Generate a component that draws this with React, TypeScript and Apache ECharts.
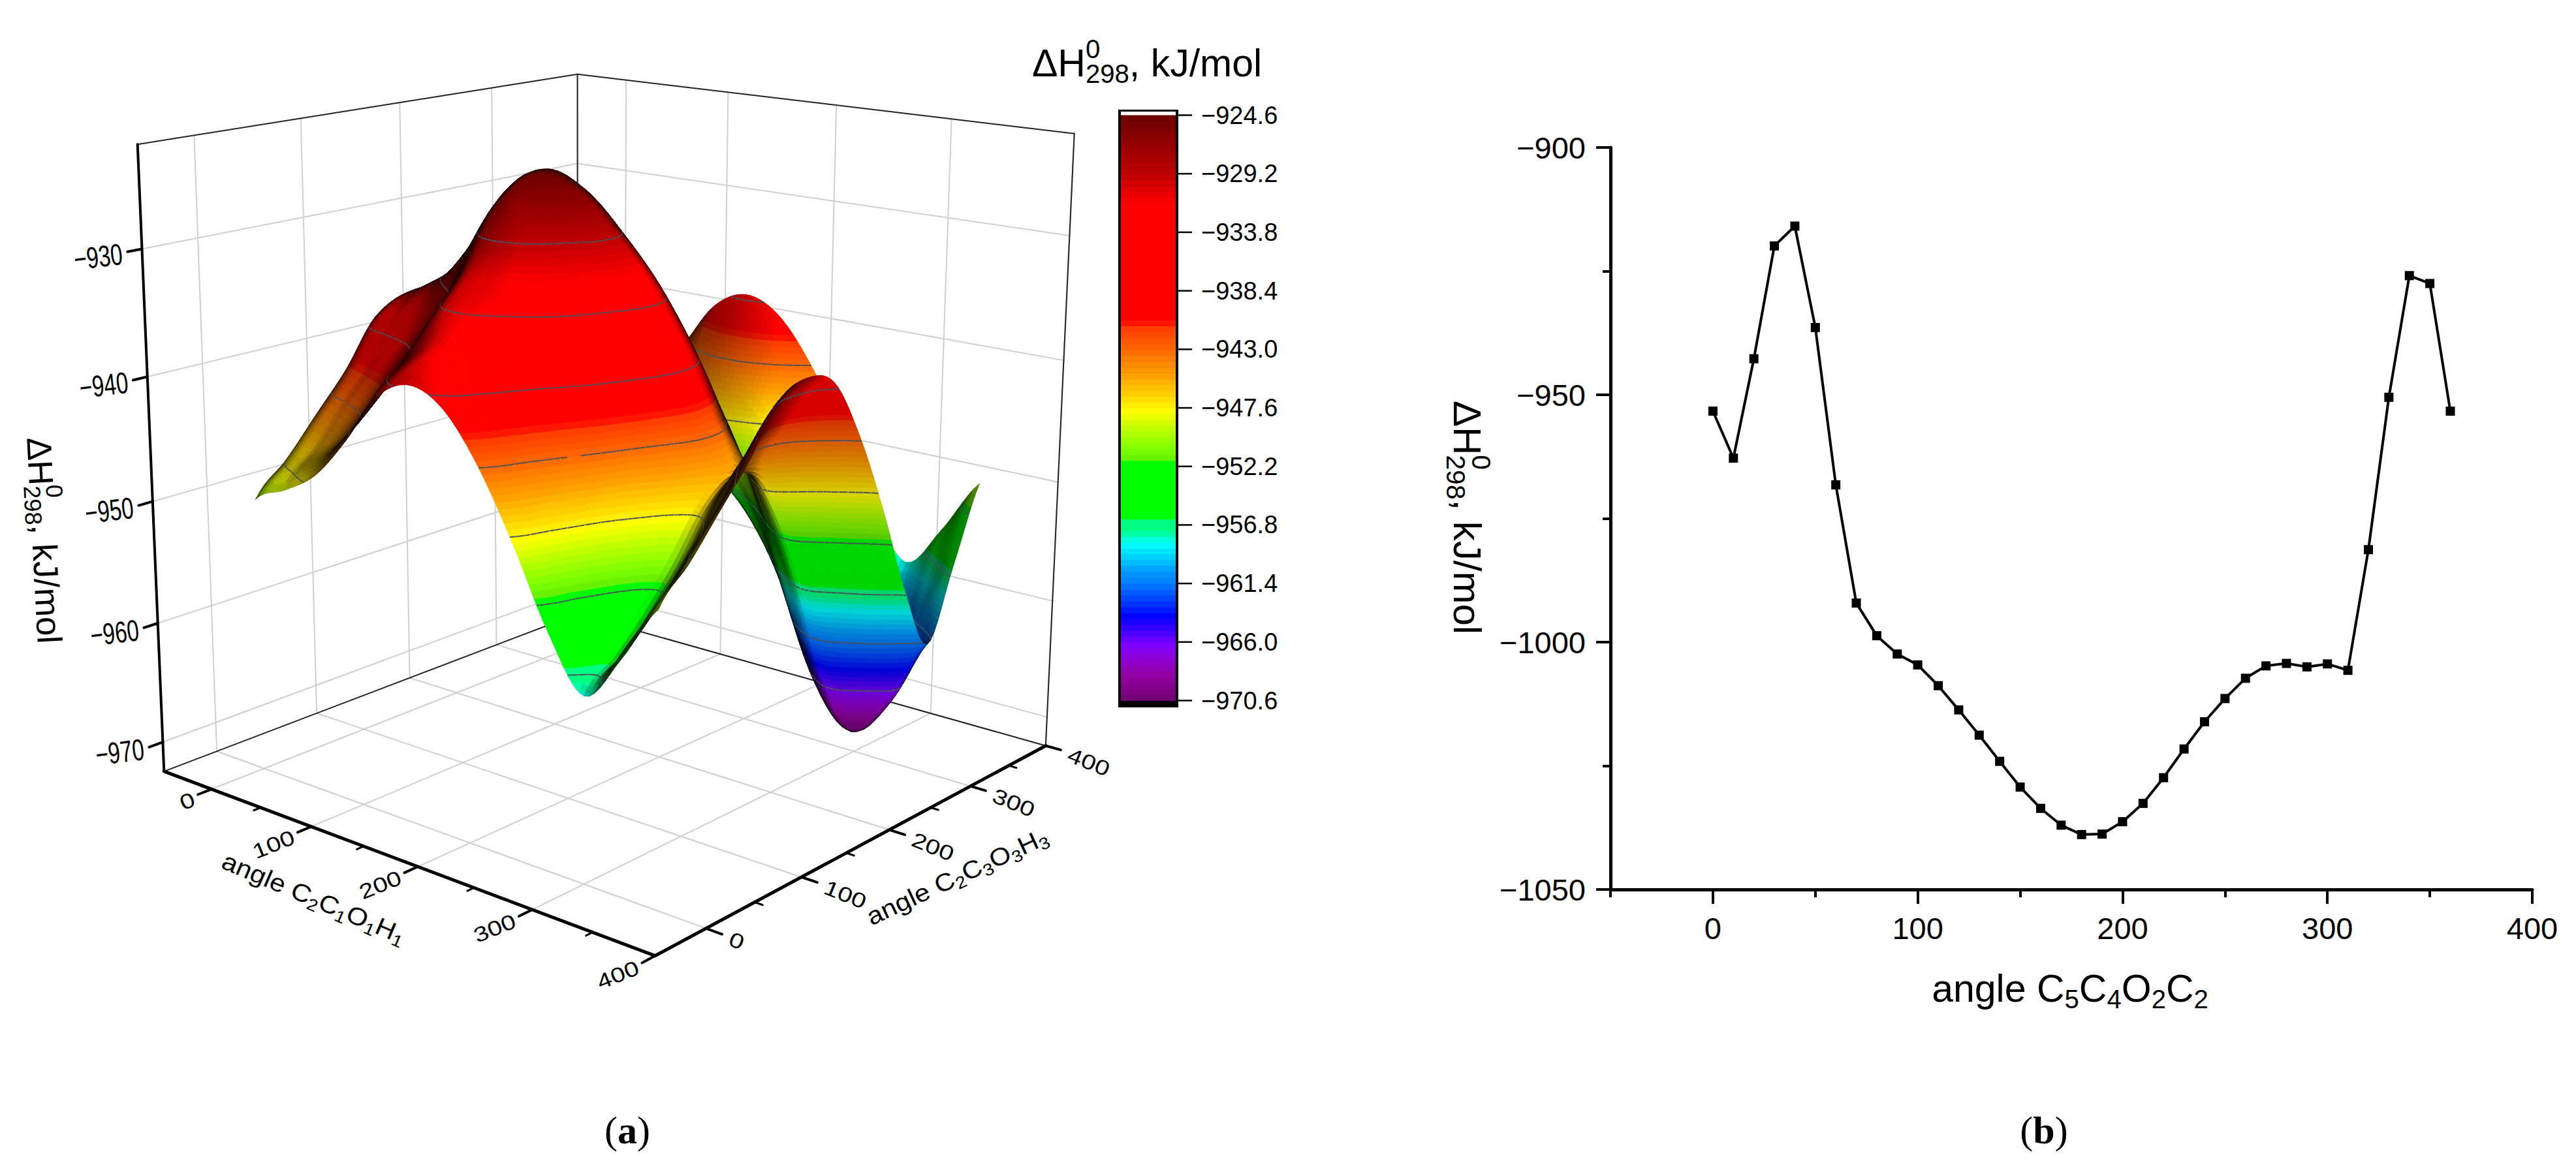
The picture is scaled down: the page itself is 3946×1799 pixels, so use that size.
import React, { useEffect, useRef } from "react";
import * as echarts from "echarts";

// ---------- Panel (b) data ----------
const lineAngles = [0,10,20,30,40,50,60,70,80,90,100,110,120,130,140,150,160,170,180,190,200,210,220,230,240,250,260,270,280,290,300,310,320,330,340,350,360];
const lineEnergies = [-953.3,-962.8,-942.7,-919.9,-915.9,-936.4,-968.2,-992.1,-998.7,-1002.4,-1004.6,-1008.8,-1013.7,-1018.8,-1024.1,-1029.3,-1033.6,-1037,-1038.9,-1038.8,-1036.3,-1032.6,-1027.4,-1021.6,-1016.1,-1011.4,-1007.3,-1004.8,-1004.3,-1005,-1004.4,-1005.7,-981.3,-950.5,-925.9,-927.5,-953.3];

// ---------- Panel (a) data ----------
const surfaceAxis = [0,30,60,90,120,150,180,210,240,270,300,330,360];
const surfaceRows = [
  [-950,-948.6,-946.8,-943.5,-939.5,-938,-939.2,-942.8,-948,-954,-958,-954.5,-950],
  [-947.5,-946.1,-944.3,-941,-937,-935.5,-936.8,-940.3,-945.6,-951.8,-956,-952,-947.5],
  [-944.5,-943,-941.5,-938.5,-934,-933.5,-935,-938,-943,-949.5,-953.5,-949.5,-944.5],
  [-941.5,-940,-938.5,-935.5,-931,-930.5,-932,-935,-940,-946.5,-950.5,-946.5,-941.5],
  [-937.8,-936.1,-934.3,-931,-926.8,-927.4,-929.9,-933,-937.6,-943.5,-947,-943,-937.8],
  [-936.8,-935,-933,-929.6,-925,-925.6,-928.2,-931.5,-936,-941.8,-945.4,-941.4,-936.8],
  [-937.8,-936,-934,-930.6,-926,-926.6,-929.2,-932.5,-937,-942.8,-946.4,-942.4,-937.8],
  [-942.5,-940.8,-938.9,-935.6,-931.4,-932,-934.4,-937.5,-942,-947.6,-951,-947,-942.5],
  [-949,-947.5,-946,-943,-938.5,-938,-939.5,-942.5,-947.5,-954,-958,-954,-949],
  [-956.5,-955,-953.5,-950.5,-946,-945.5,-947,-950,-955,-962.3,-966.5,-962.3,-956.5],
  [-961.7,-960.2,-958.7,-955.7,-951.2,-950.7,-952.2,-955.2,-960.2,-967.5,-970.7,-967.5,-961.7],
  [-956,-954.6,-952.8,-949.5,-945.5,-944,-945.2,-948.8,-954,-960.6,-965.5,-961,-956],
  [-950,-948.6,-946.8,-943.5,-939.5,-938,-939.2,-942.8,-948,-954,-958,-954.5,-950],
];
const axisTicks3D = [0,100,200,300,400];
const axisMinor3D = [50,150,250,350];
const energyTicks3D = [-970,-960,-950,-940,-930];
const barTicks = [-924.6,-929.2,-933.8,-938.4,-943.0,-947.6,-952.2,-956.8,-961.4,-966.0,-970.6];
const colorValues = [-924.6,-927.5,-929.2,-931.6,-940.7,-941.4,-942.7,-943.8,-945,-946,-947,-947.9,-949.2,-950.8,-951.7,-951.8,-956.3,-956.4,-957.2,-957.7,-958.3,-959.7,-960.3,-961.3,-962.7,-964,-965.1,-966.2,-967.4,-968.7,-970.6];
const colorHex = ["#6a0000","#a00000","#c00000","#ff0000","#ff0000","#ff4000","#ff6000","#ff8000","#ffa000","#ffc000","#ffe000","#ffff00","#c0ff00","#80ff00","#60f000","#00ff00","#00ff00","#00ff80","#00ff80","#00ffc0","#00ffff","#00c0ff","#00a0ff","#0080ff","#0040ff","#0000ff","#4000ff","#8000ff","#9000d0","#9000a0","#700070"];

const FONT = '"Liberation Sans", Arial, sans-serif';
const BANDS = 100;
const XMIN = -50, XMAX = 400, ZMIN = -972.5, ZMAX = -922;
const SUB = 7;
const BAND_LO = barTicks[barTicks.length - 1], BAND_HI = barTicks[0];
const BAND_STEP = (BAND_HI - BAND_LO) / BANDS;

const hexRgb = (h: string) => [1, 3, 5].map((i) => parseInt(h.slice(i, i + 2), 16));
function bandColor(z: number): number[] {
  const k = Math.max(0, Math.min(BANDS - 1, Math.floor((z - BAND_LO) / BAND_STEP)));
  const c = BAND_LO + (k + 0.5) * BAND_STEP;
  for (let i = 0; i < colorValues.length - 1; i++) {
    if (c <= colorValues[i] && c >= colorValues[i + 1]) {
      const t = (colorValues[i] - c) / (colorValues[i] - colorValues[i + 1]);
      const a = hexRgb(colorHex[i]), b = hexRgb(colorHex[i + 1]);
      return a.map((v, n) => v + (b[n] - v) * t);
    }
  }
  return hexRgb(colorHex[colorHex.length - 1]);
}
const rgb = (c: number[], f = 1) => `rgb(${c.map((v) => Math.round(v * f)).join(",")})`;

// ---------- camera, fitted to the box corners ----------
const boxCorners: number[][] = [
  [0, 0, 0, 251.5, 1183],
  [1, 0, 0, 1003, 1464],
  [1, 1, 0, 1602, 1143],
  [0, 1, 0, 885, 940],
  [0, 0, 1, 211, 220.6],
  [0, 1, 1, 884, 114],
  [1, 1, 1, 1646, 205],
];
function fitCamera(): number[] {
  const rows: number[][] = [];
  for (const [u, v, w, X, Y] of boxCorners) {
    rows.push([1, u, v, w, 0, 0, 0, 0, -X * u, -X * v, -X * w, X]);
    rows.push([0, 0, 0, 0, 1, u, v, w, -Y * u, -Y * v, -Y * w, Y]);
  }
  const n = 11;
  const A = Array.from({ length: n }, () => new Array(n + 1).fill(0));
  for (const r of rows) for (let i = 0; i < n; i++) for (let j = 0; j <= n; j++) A[i][j] += r[i] * r[j];
  for (let c = 0; c < n; c++) {
    let p = c;
    for (let r = c + 1; r < n; r++) if (Math.abs(A[r][c]) > Math.abs(A[p][c])) p = r;
    [A[c], A[p]] = [A[p], A[c]];
    for (let r = 0; r < n; r++) {
      if (r === c) continue;
      const f = A[r][c] / A[c][c];
      for (let j = c; j <= n; j++) A[r][j] -= f * A[c][j];
    }
  }
  return A.map((r, i) => r[n] / r[i]);
}
const H = fitCamera();
const depth = (u: number, v: number, w: number) => 1 + H[8] * u + H[9] * v + H[10] * w;
function project(u: number, v: number, w: number): number[] {
  const d = depth(u, v, w);
  return [(H[0] + H[1] * u + H[2] * v + H[3] * w) / d, (H[4] + H[5] * u + H[6] * v + H[7] * w) / d];
}
const det3 = (m: number[][]) =>
  m[0][0] * (m[1][1] * m[2][2] - m[1][2] * m[2][1]) -
  m[0][1] * (m[1][0] * m[2][2] - m[1][2] * m[2][0]) +
  m[0][2] * (m[1][0] * m[2][1] - m[1][1] * m[2][0]);
const camPos = (() => {
  const M = [[H[1], H[2], H[3]], [H[5], H[6], H[7]], [H[8], H[9], H[10]]];
  const r = [-H[0], -H[4], -1];
  const d = det3(M);
  return [0, 1, 2].map((c) => det3(M.map((row, i) => row.map((v, j) => (j === c ? r[i] : v)))) / d);
})();

const uOf = (x: number) => (x - XMIN) / (XMAX - XMIN);
const wOf = (z: number) => (z - ZMIN) / (ZMAX - ZMIN);

// ---------- smooth drawing of the table ----------
const CELLS = surfaceAxis.length - 1;
const wrap = (i: number) => ((i % CELLS) + CELLS) % CELLS;
const cr = (a: number, b: number, c: number, d: number, t: number) =>
  0.5 * (2 * b + (c - a) * t + (2 * a - 5 * b + 4 * c - d) * t * t + (3 * b - a - 3 * c + d) * t * t * t);
function sampleSurface(fx: number, fy: number): number {
  const ix = Math.min(CELLS - 1, Math.floor(fx)), iy = Math.min(CELLS - 1, Math.floor(fy));
  const tx = fx - ix, ty = fy - iy;
  const col = [-1, 0, 1, 2].map((dy) => {
    const r = surfaceRows[wrap(iy + dy)];
    return cr(r[wrap(ix - 1)], r[wrap(ix)], r[wrap(ix + 1)], r[wrap(ix + 2)], tx);
  });
  return cr(col[0], col[1], col[2], col[3], ty);
}
const N = CELLS * SUB;
const mesh: number[][] = [];
for (let j = 0; j <= N; j++) {
  const row: number[] = [];
  for (let i = 0; i <= N; i++) row.push(sampleSurface(i / SUB, j / SUB));
  mesh.push(row);
}
const xAt = (i: number) => (i / N) * 360, yAt = (j: number) => (j / N) * 360;
const cellOrder: number[][] = [];
for (let j = 0; j < N; j++) for (let i = 0; i < N; i++) {
  const d = depth(uOf(xAt(i + 0.5)), uOf(yAt(j + 0.5)), wOf((mesh[j][i] + mesh[j + 1][i + 1]) / 2));
  cellOrder.push([i, j, d]);
}
cellOrder.sort((a, b) => b[2] - a[2]);

// vertices are [u, v, z]
function clipZ(poly: number[][], level: number, keepAbove: boolean): number[][] {
  const out: number[][] = [];
  for (let i = 0; i < poly.length; i++) {
    const a = poly[i], b = poly[(i + 1) % poly.length];
    const ia = keepAbove ? a[2] >= level : a[2] <= level;
    const ib = keepAbove ? b[2] >= level : b[2] <= level;
    if (ia) out.push(a);
    if (ia !== ib) {
      const t = (level - a[2]) / (b[2] - a[2]);
      out.push([a[0] + (b[0] - a[0]) * t, a[1] + (b[1] - a[1]) * t, level]);
    }
  }
  return out;
}

function renderCell(_: any, api: any) {
  const i = api.value(0), j = api.value(1);
  const node = (a: number, b: number) => [uOf(xAt(a)), uOf(yAt(b)), wOf(mesh[b][a])];
  const p = [node(i, j), node(i + 1, j), node(i + 1, j + 1), node(i, j + 1)];
  const d1 = [0, 1, 2].map((k) => p[2][k] - p[0][k]);
  const d2 = [0, 1, 2].map((k) => p[3][k] - p[1][k]);
  let n = [d1[1] * d2[2] - d1[2] * d2[1], d1[2] * d2[0] - d1[0] * d2[2], d1[0] * d2[1] - d1[1] * d2[0]];
  if (n[2] < 0) n = n.map((v) => -v);
  const nl = Math.hypot(n[0], n[1], n[2]);
  const c = [0, 1, 2].map((k) => camPos[k] - (p[0][k] + p[2][k]) / 2);
  const cl = Math.hypot(c[0], c[1], c[2]);
  const cs = (n[0] * c[0] + n[1] * c[1] + n[2] * c[2]) / (nl * cl);
  const away = Math.max(0, Math.min(1, (-(n[0] + n[1]) / nl) * 0.707 - 0.25));
  const factor = cs >= 0 ? Math.min(1, 0.06 + cs * 2.0) * (1 - 0.75 * away) : Math.min(0.84, -cs * 2.0);
  const raw = [[i, j], [i + 1, j], [i + 1, j + 1], [i, j + 1]].map(([a, b]) => [uOf(xAt(a)), uOf(yAt(b)), mesh[b][a]]);
  const zs = raw.map((q) => q[2]);
  const zMin = Math.min(...zs), zMax = Math.max(...zs);
  const kids: any[] = [];
  const k0 = Math.floor((zMin - BAND_LO) / BAND_STEP), k1 = Math.floor((zMax - BAND_LO) / BAND_STEP);
  for (let k = k0; k <= k1; k++) {
    const lo = BAND_LO + k * BAND_STEP, hi = lo + BAND_STEP;
    let poly = raw;
    if (zMin < lo) poly = clipZ(poly, lo, true);
    if (zMax > hi && poly.length) poly = clipZ(poly, hi, false);
    if (poly.length < 3) continue;
    const fill = rgb(bandColor(lo + BAND_STEP / 2), factor);
    kids.push({ type: "polygon", silent: true, shape: { points: poly.map((q) => project(q[0], q[1], wOf(q[2]))) }, style: { fill, stroke: fill, lineWidth: 1 } });
  }
  for (const lev of barTicks.slice(1, -1)) {
    if (lev < zMin || lev > zMax) continue;
    const hits: number[][] = [];
    for (let e = 0; e < 4; e++) {
      const a = raw[e], b = raw[(e + 1) % 4];
      if ((a[2] - lev) * (b[2] - lev) < 0) {
        const t = (lev - a[2]) / (b[2] - a[2]);
        hits.push(project(a[0] + (b[0] - a[0]) * t, a[1] + (b[1] - a[1]) * t, wOf(lev)));
      }
    }
    for (let h = 0; h + 1 < hits.length; h += 2) {
      kids.push({ type: "line", silent: true, shape: { x1: hits[h][0], y1: hits[h][1], x2: hits[h + 1][0], y2: hits[h + 1][1] }, style: { stroke: "#4a5058", lineWidth: 2 } });
    }
  }
  return kids.length === 1 ? kids[0] : { type: "group", children: kids };
}

// ---------- 3D box lines ----------
type Seg = number[]; // u1 v1 w1 u2 v2 w2 width colourIndex
const GRID = 0, EDGE = 1, AXIS = 2;
const segColours = ["#cfcfcf", "#222222", "#000000"];
const backSegs: Seg[] = [];
const frontSegs: Seg[] = [];
for (const t of axisTicks3D) {
  const a = uOf(t);
  backSegs.push([a, 0, 0, a, 1, 0, 2, GRID], [0, a, 0, 1, a, 0, 2, GRID], [a, 1, 0, a, 1, 1, 2, GRID], [0, a, 0, 0, a, 1, 2, GRID]);
  frontSegs.push([a, 0, 0, a, -0.028, 0, 4, AXIS], [1, a, 0, 1.028, a, 0, 4, AXIS]);
}
for (const t of axisMinor3D) {
  const a = uOf(t);
  frontSegs.push([a, 0, 0, a, -0.014, 0, 3, AXIS], [1, a, 0, 1.014, a, 0, 3, AXIS]);
}
for (const t of energyTicks3D) {
  const b = wOf(t);
  backSegs.push([0, 0, b, 0, 1, b, 2, GRID], [0, 1, b, 1, 1, b, 2, GRID]);
  frontSegs.push([0, 0, b, 0, -0.028, b, 4, AXIS]);
}
backSegs.push([0, 0, 1, 0, 1, 1, 2, EDGE], [0, 1, 1, 1, 1, 1, 2, EDGE], [1, 1, 1, 1, 1, 0, 2, EDGE], [0, 1, 0, 0, 1, 1, 2, EDGE], [0, 0, 0, 0, 1, 0, 2, EDGE], [0, 1, 0, 1, 1, 0, 2, EDGE]);
frontSegs.push([0, 0, 0, 0, 0, 1, 4, AXIS], [0, 0, 0, 1, 0, 0, 5, AXIS], [1, 0, 0, 1, 1, 0, 5, AXIS]);

function renderSeg(_: any, api: any) {
  const a = project(api.value(0), api.value(1), api.value(2));
  const b = project(api.value(3), api.value(4), api.value(5));
  return { type: "line", silent: true, shape: { x1: a[0], y1: a[1], x2: b[0], y2: b[1] }, style: { stroke: segColours[api.value(7)], lineWidth: api.value(6), lineCap: "round" } };
}

// ---------- colour bar ----------
const BAR = { left: 1717, right: 1801, top: 176.5, bottom: 1073.5 };
const barBands = Array.from({ length: BANDS }, (_, k) => [k]);
function renderBand(_: any, api: any) {
  const k = api.value(0);
  const h = (BAR.bottom - BAR.top) / BANDS;
  const fill = rgb(bandColor(BAND_LO + (k + 0.5) * BAND_STEP));
  return { type: "rect", silent: true, shape: { x: BAR.left, y: BAR.bottom - (k + 1) * h, width: BAR.right - BAR.left, height: h + 0.6 }, style: { fill } };
}

// ---------- real-text helper with sub/superscripts ----------
type Run = { t: string; sub?: boolean; sup?: boolean; stack?: boolean; bold?: boolean };
const meas = typeof document !== "undefined" ? document.createElement("canvas").getContext("2d") : null;
function widthOf(t: string, fs: number, bold?: boolean, family = FONT) {
  if (!meas) return t.length * fs * 0.55;
  meas.font = `${bold ? "bold " : ""}${fs}px ${family}`;
  return meas.measureText(t).width;
}
function label(x: number, y: number, deg: number, runs: Run[], fs: number, opt: { align?: "left" | "center" | "right"; scaleX?: number; scaleY?: number; family?: string; z?: number } = {}) {
  const sc = 0.68;
  const family = opt.family || FONT;
  let cursor = 0;
  const kids: any[] = [];
  runs.forEach((r) => {
    const size = r.sub || r.sup ? fs * sc : fs;
    const dy = r.sub ? fs * 0.28 : r.sup ? -fs * 0.36 : 0;
    kids.push({ type: "text", x: cursor, y: dy, style: { text: r.t, fontSize: size, fontFamily: family, fontWeight: r.bold ? "bold" : "normal", fill: "#000", align: "left", verticalAlign: "middle" }, silent: true });
    if (!r.stack) cursor += widthOf(r.t, size, r.bold, family);
  });
  const off = opt.align === "center" ? -cursor / 2 : opt.align === "right" ? -cursor : 0;
  kids.forEach((k) => (k.x += off));
  const inner = { type: "group", scaleX: opt.scaleX ?? 1, scaleY: opt.scaleY ?? 1, children: kids };
  return { type: "group", x, y, rotation: (deg * Math.PI) / 180, children: [inner], z: opt.z ?? 10 };
}
const minus = (v: number | string) => String(v).replace("-", "\u2212");
const dH: Run[] = [{ t: "\u0394H" }, { t: "0", sup: true, stack: true }, { t: "298", sub: true }, { t: ", kJ/mol" }];
const angleTitle = (a: string, b: string, c: string, d: string, n1: string, n2: string, n3: string, n4: string): Run[] => [
  { t: "angle " + a }, { t: n1, sub: true }, { t: b }, { t: n2, sub: true }, { t: c }, { t: n3, sub: true }, { t: d }, { t: n4, sub: true },
];

function buildGraphics() {
  const g: any[] = [];
  // panel (a)
  g.push(label(68, 828, -87, dH, 53, { align: "center" }));
  for (const t of energyTicks3D) {
    const p = project(0, -0.028, wOf(t));
    g.push(label(p[0] - 8, p[1] + 3, 7, [{ t: minus(t) }], 46, { align: "right", scaleX: 0.72 }));
  }
  for (const t of axisTicks3D) {
    const p = project(uOf(t), -0.028, 0);
    g.push(label(p[0] - 6, p[1] + 6, 22, [{ t: String(t) }], 40, { align: "right", scaleY: 0.8 }));
    const q = project(1.028, uOf(t), 0);
    g.push(label(q[0] + 12, q[1] + 6, -22, [{ t: String(t) }], 40, { align: "left", scaleY: 0.8 }));
  }
  g.push(label(481, 1376, -23, angleTitle("C", "C", "O", "H", "2", "1", "1", "1"), 42, { align: "center", scaleY: 0.9 }));
  g.push(label(1466, 1343, 25, angleTitle("C", "C", "O", "H", "2", "3", "3", "3"), 42, { align: "center", scaleY: 0.9 }));
  // colour bar
  g.push({ type: "rect", silent: true, shape: { x: 1713, y: 168, width: 92, height: 916 }, style: { fill: "#000" }, z: 1 });
  g.push({ type: "rect", silent: true, shape: { x: 1717, y: 171, width: 84, height: 6 }, style: { fill: "#fff" }, z: 1 });
  barTicks.forEach((t) => {
    const y = BAR.top + ((barTicks[0] - t) / (barTicks[0] - barTicks[barTicks.length - 1])) * (BAR.bottom - BAR.top);
    g.push({ type: "line", silent: true, shape: { x1: 1805, y1: y, x2: 1826, y2: y }, style: { stroke: "#000", lineWidth: 2.5 }, z: 1 });
    g.push(label(1840, y, 0, [{ t: minus(t.toFixed(1)) }], 38, { align: "left" }));
  });
  g.push(label(1757, 97, 0, dH, 59, { align: "center" }));
  // panel (b) titles
  g.push(label(3171, 1515, 0, angleTitle("C", "C", "O", "C", "5", "4", "2", "2"), 59, { align: "center" }));
  g.push(label(2247, 793, -90, dH, 60, { align: "center" }));
  // captions
  const serif = '"Liberation Serif", "Times New Roman", serif';
  g.push(label(961, 1732, 0, [{ t: "(" }, { t: "a", bold: true }, { t: ")" }], 60, { align: "center", family: serif }));
  g.push(label(3131, 1732, 0, [{ t: "(" }, { t: "b", bold: true }, { t: ")" }], 60, { align: "center", family: serif }));
  return g;
}

export default function App() {
  const ref = useRef<HTMLDivElement>(null);
  useEffect(() => {
    const chart = echarts.init(ref.current!, undefined, { renderer: "svg" });
    const axisText = { fontFamily: FONT, fontSize: 47, color: "#000" };
    chart.setOption({
      animation: false,
      backgroundColor: "#fff",
      graphic: { elements: buildGraphics() },
      grid: { left: 2467, top: 226, width: 1412, height: 1137, containLabel: false },
      xAxis: [
        {
          type: "value", min: -50, max: 400, interval: 50, splitLine: { show: false },
          axisLine: { show: true, onZero: false, lineStyle: { color: "#000", width: 5 } },
          axisTick: { show: true, length: 22, lineStyle: { color: "#000", width: 4 }, customValues: [0, 100, 200, 300, 400] },
          axisLabel: { ...axisText, margin: 36, customValues: [0, 100, 200, 300, 400] },
        },
        {
          type: "value", position: "bottom", min: -50, max: 400, interval: 50, splitLine: { show: false },
          axisLine: { show: false, onZero: false },
          axisTick: { show: true, length: 12, lineStyle: { color: "#000", width: 4 }, customValues: [-50, 50, 150, 250, 350] },
          axisLabel: { show: false },
        },
      ],
      yAxis: {
        type: "value", min: -1050, max: -900, interval: 50, splitLine: { show: false },
        axisLine: { show: true, onZero: false, lineStyle: { color: "#000", width: 5 } },
        axisTick: { show: true, length: 22, lineStyle: { color: "#000", width: 4 } },
        minorTick: { show: true, splitNumber: 2, length: 12, lineStyle: { color: "#000", width: 4 } },
        axisLabel: { ...axisText, margin: 38, formatter: (v: number) => minus(v) },
      },
      series: [
        {
          type: "line", xAxisIndex: 0, yAxisIndex: 0, data: lineAngles.map((a, i) => [a, lineEnergies[i]]),
          symbol: "rect", symbolSize: 14, showSymbol: true, clip: false,
          lineStyle: { color: "#000", width: 4 }, itemStyle: { color: "#000" },
        },
        { type: "custom", coordinateSystem: "none", z: 1, silent: true, clip: false, progressive: 0, data: backSegs, renderItem: renderSeg },
        { type: "custom", coordinateSystem: "none", z: 3, silent: true, clip: false, progressive: 0, data: cellOrder, renderItem: renderCell },
        { type: "custom", coordinateSystem: "none", z: 4, silent: true, clip: false, progressive: 0, data: frontSegs, renderItem: renderSeg },
        { type: "custom", coordinateSystem: "none", z: 5, silent: true, clip: false, progressive: 0, data: barBands, renderItem: renderBand },
      ],
    });
    return () => chart.dispose();
  }, []);
  return <div ref={ref} style={{ position: "fixed", left: 0, top: 0, width: 3946, height: 1799 }} />;
}
